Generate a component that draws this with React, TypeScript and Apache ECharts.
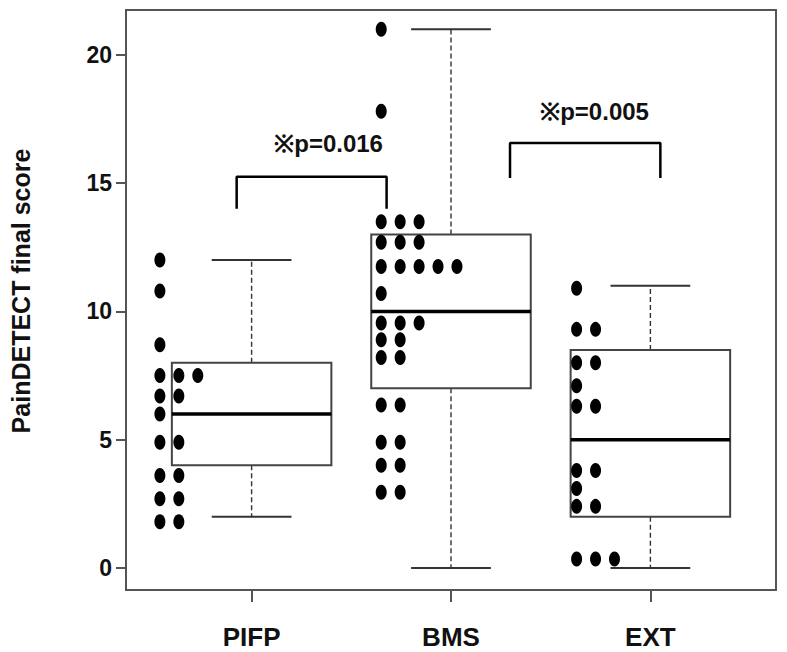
import React, { useEffect, useRef } from "react";
import * as echarts from "echarts";

// ---- data ----
const categories = ["PIFP", "BMS", "EXT"];
const yTicks = [0, 5, 10, 15, 20];

// box statistics per group
const lowerWhisker = [2, 0, 0];
const q1 = [4, 7, 2];
const median = [6, 10, 5];
const q3 = [8, 13, 8.5];
const upperWhisker = [12, 21, 11];

// individual scores (stacked strip chart)
const pifpValues = [12, 10.8, 8.7, 7.5, 7.5, 7.5, 6.7, 6.7, 6.0, 4.9, 4.9, 3.6, 3.6, 2.7, 2.7, 1.8, 1.8];
const bmsValues = [
  21, 17.8, 13.5, 13.5, 13.5, 12.7, 12.7, 12.7, 11.75, 11.75, 11.75, 11.75, 11.75, 10.7,
  9.55, 9.55, 9.55, 8.9, 8.9, 8.2, 8.2, 6.35, 6.35, 4.9, 4.9, 4.0, 4.0, 2.95, 2.95,
];
const extValues = [10.9, 9.3, 9.3, 8.0, 8.0, 7.1, 6.3, 6.3, 3.8, 3.8, 3.1, 2.4, 2.4, 0.35, 0.35, 0.35];
const groupValues = [pifpValues, bmsValues, extValues];

// strip offsets (x units relative to the group position)
const stripStart = [-0.46, -0.35, -0.37];
const stripStep = 0.095;

// significance annotations
const bracket1 = [[0.925, 14.0], [0.925, 15.25], [1.677, 15.25], [1.677, 14.0]];
const bracket2 = [[2.296, 15.2], [2.296, 16.57], [3.05, 16.57], [3.05, 15.2]];
const annotTexts = ["※p=0.016", "※p=0.005"];
const annotPos = [[1.386, 16.55], [2.72, 17.8]];

const X_MIN = 0.37;
const X_MAX = 3.63;
const Y_MIN = -0.86;
const Y_MAX = 21.75;

const FONT = "'Liberation Sans', Arial, Helvetica, sans-serif";

function buildPoints() {
  const pts: number[][] = [];
  groupValues.forEach((vals, gi) => {
    const seen: Record<string, number> = {};
    vals.forEach((v) => {
      const key = String(v);
      const col = seen[key] || 0;
      seen[key] = col + 1;
      pts.push([gi + 1 + stripStart[gi] + col * stripStep, v]);
    });
  });
  return pts;
}

export default function App() {
  const ref = useRef<HTMLDivElement>(null);

  useEffect(() => {
    if (!ref.current) return;
    const chart = echarts.init(ref.current, null, { renderer: "svg" });

    const boxData = categories.map((_, i) => [
      i + 1,
      lowerWhisker[i],
      q1[i],
      median[i],
      q3[i],
      upperWhisker[i],
    ]);

    const option: any = {
      animation: false,
      grid: {
        left: 126,
        right: 11,
        top: 10,
        bottom: 62,
        show: true,
        borderColor: "#555",
        borderWidth: 2,
        backgroundColor: "#fff",
      },
      xAxis: {
        type: "value",
        min: X_MIN,
        max: X_MAX,
        splitLine: { show: false },
        axisLine: { show: true, onZero: false, lineStyle: { color: "#555", width: 2 } },
        axisTick: {
          show: true,
          customValues: [1, 2, 3],
          length: 12,
          lineStyle: { color: "#555", width: 2 },
        },
        axisLabel: {
          customValues: [1, 2, 3],
          formatter: (v: number) => categories[Math.round(v) - 1] || "",
          margin: 34,
          fontSize: 26,
          fontWeight: "bold",
          fontFamily: FONT,
          color: "#111",
        },
      },
      yAxis: {
        type: "value",
        min: Y_MIN,
        max: Y_MAX,
        splitLine: { show: false },
        axisLine: { show: true, onZero: false, lineStyle: { color: "#555", width: 2 } },
        axisTick: {
          show: true,
          customValues: yTicks,
          length: 10,
          lineStyle: { color: "#555", width: 2 },
        },
        axisLabel: {
          customValues: yTicks,
          margin: 14,
          fontSize: 23,
          fontWeight: "bold",
          fontFamily: FONT,
          color: "#111",
        },
      },
      graphic: [
        {
          type: "text",
          x: 21,
          y: 291,
          rotation: Math.PI / 2,
          style: {
            text: "PainDETECT final score",
            font: `bold 25px ${FONT}`,
            fill: "#111",
            textAlign: "center",
            textVerticalAlign: "middle",
          },
        },
      ],
      series: [
        {
          type: "custom",
          data: boxData,
          renderItem: (params: any, api: any) => {
            const x = api.value(0);
            const lw = api.value(1);
            const b1 = api.value(2);
            const md = api.value(3);
            const b3 = api.value(4);
            const uw = api.value(5);
            const half = 0.4;
            const cap = 0.2;
            const pTL = api.coord([x - half, b3]);
            const pBR = api.coord([x + half, b1]);
            const pMedL = api.coord([x - half, md]);
            const pMedR = api.coord([x + half, md]);
            const pC_b3 = api.coord([x, b3]);
            const pC_uw = api.coord([x, uw]);
            const pC_b1 = api.coord([x, b1]);
            const pC_lw = api.coord([x, lw]);
            const capUL = api.coord([x - cap, uw]);
            const capUR = api.coord([x + cap, uw]);
            const capLL = api.coord([x - cap, lw]);
            const capLR = api.coord([x + cap, lw]);
            const dash = { stroke: "#333", lineWidth: 1.4, lineDash: [5, 3] };
            const solid = { stroke: "#333", lineWidth: 2 };
            return {
              type: "group",
              children: [
                {
                  type: "line",
                  shape: { x1: pC_b3[0], y1: pC_b3[1], x2: pC_uw[0], y2: pC_uw[1] },
                  style: dash,
                },
                {
                  type: "line",
                  shape: { x1: pC_b1[0], y1: pC_b1[1], x2: pC_lw[0], y2: pC_lw[1] },
                  style: dash,
                },
                {
                  type: "line",
                  shape: { x1: capUL[0], y1: capUL[1], x2: capUR[0], y2: capUR[1] },
                  style: solid,
                },
                {
                  type: "line",
                  shape: { x1: capLL[0], y1: capLL[1], x2: capLR[0], y2: capLR[1] },
                  style: solid,
                },
                {
                  type: "rect",
                  shape: {
                    x: pTL[0],
                    y: pTL[1],
                    width: pBR[0] - pTL[0],
                    height: pBR[1] - pTL[1],
                  },
                  style: { fill: "none", stroke: "#444", lineWidth: 2 },
                },
                {
                  type: "line",
                  shape: { x1: pMedL[0], y1: pMedL[1], x2: pMedR[0], y2: pMedR[1] },
                  style: { stroke: "#000", lineWidth: 3.5 },
                },
              ],
            };
          },
          z: 2,
        },
        {
          type: "scatter",
          data: buildPoints(),
          symbol: "circle",
          symbolSize: [11, 15],
          itemStyle: { color: "#000", opacity: 1 },
          z: 5,
        },
        {
          type: "line",
          data: bracket1,
          symbol: "none",
          lineStyle: { color: "#000", width: 2.5 },
          z: 4,
        },
        {
          type: "line",
          data: bracket2,
          symbol: "none",
          lineStyle: { color: "#000", width: 2.5 },
          z: 4,
        },
        {
          type: "custom",
          data: annotPos.map((p, i) => [p[0], p[1], i]),
          renderItem: (params: any, api: any) => {
            const pt = api.coord([api.value(0), api.value(1)]);
            const idx = api.value(2);
            return {
              type: "text",
              x: pt[0],
              y: pt[1],
              style: {
                text: annotTexts[idx],
                font: `bold 24px ${FONT}`,
                fill: "#111",
                textAlign: "center",
                textVerticalAlign: "middle",
              },
            };
          },
          z: 6,
        },
      ],
    };

    chart.setOption(option);
    return () => chart.dispose();
  }, []);

  return (
    <div
      ref={ref}
      style={{ position: "absolute", left: 0, top: 0, width: 787, height: 652, background: "#fff" }}
    />
  );
}
